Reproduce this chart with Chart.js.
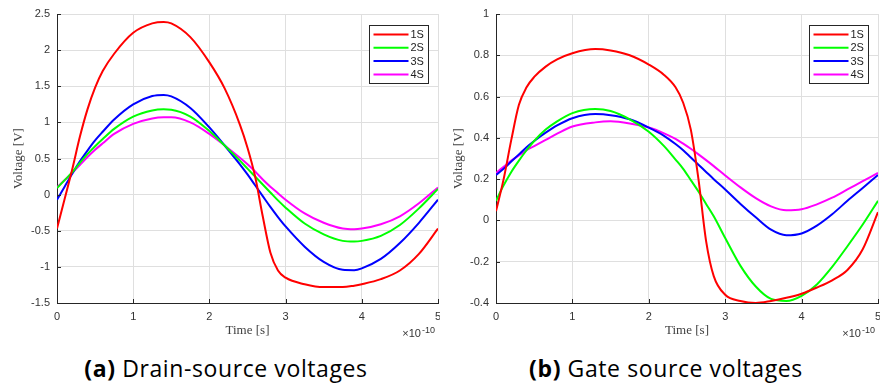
<!DOCTYPE html>
<html>
<head>
<meta charset="utf-8">
<script src="https://cdn.jsdelivr.net/npm/chart.js@4/dist/chart.umd.min.js"></script>
<style>
  body { margin: 0; background: #fff; width: 880px; height: 387px; position: relative; overflow: hidden; }
  canvas { position: absolute; top: 0; }
  #chartA { left: 0; }
  #chartB { left: 440px; }
  .cap { position: absolute; top: 354px; width: 452px; text-align: center;
         font-family: "Open Sans", sans-serif; font-size: 23px; letter-spacing: 0.6px;
         line-height: 28px; color: #000; }
</style>
</head>
<body>
<canvas id="chartA" width="440" height="342"></canvas>
<canvas id="chartB" width="440" height="342"></canvas>
<div class="cap" style="left:0"><b>(a)</b> Drain-source voltages</div>
<div class="cap" style="left:440px"><b>(b)</b> Gate source voltages</div>
<script>
const seriesNames = ['1S', '2S', '3S', '4S'];
const seriesColors = ['#ff0000', '#00ff00', '#0000ff', '#ff00ff'];
const xTicks = [0, 1, 2, 3, 4, 5];

// (a) drain-source, time in units of 1e-10 s
const timeA = [0, 0.1, 0.2, 0.3, 0.4, 0.5, 0.6, 0.75, 1.0, 1.25, 1.4, 1.5, 1.75, 2.0, 2.2, 2.4, 2.5, 2.6, 2.7, 2.8, 2.9, 3.0, 3.25, 3.5, 3.75, 3.9, 4.0, 4.25, 4.5, 4.75, 5.0];
const vds1S = [-0.47, -0.06, 0.35, 0.8, 1.18, 1.48, 1.71, 1.95, 2.24, 2.37, 2.39, 2.37, 2.18, 1.83, 1.47, 0.97, 0.65, 0.25, -0.3, -0.8, -1.05, -1.15, -1.24, -1.28, -1.28, -1.26, -1.24, -1.17, -1.05, -0.82, -0.47];
const vds2S = [0.09, 0.2, 0.31, 0.44, 0.56, 0.67, 0.77, 0.91, 1.08, 1.165, 1.18, 1.175, 1.08, 0.88, 0.68, 0.47, 0.36, 0.25, 0.14, 0.03, -0.08, -0.18, -0.4, -0.55, -0.64, -0.65, -0.64, -0.57, -0.42, -0.19, 0.08];
const vds3S = [-0.07, 0.11, 0.29, 0.46, 0.61, 0.75, 0.87, 1.04, 1.25, 1.365, 1.38, 1.36, 1.2, 0.93, 0.68, 0.42, 0.28, 0.13, -0.02, -0.17, -0.31, -0.44, -0.72, -0.93, -1.04, -1.045, -1.02, -0.89, -0.67, -0.39, -0.07];
const vds4S = [0.1, 0.2, 0.3, 0.41, 0.52, 0.62, 0.71, 0.84, 0.98, 1.055, 1.07, 1.07, 1.0, 0.84, 0.68, 0.51, 0.42, 0.32, 0.21, 0.11, 0.02, -0.07, -0.26, -0.39, -0.47, -0.48, -0.47, -0.41, -0.3, -0.12, 0.1];
const yTicksA = [-1.5, -1, -0.5, 0, 0.5, 1, 1.5, 2, 2.5];

// (b) gate-source
const timeB = [0, 0.1, 0.2, 0.3, 0.4, 0.5, 0.65, 0.8, 1.0, 1.3, 1.5, 1.75, 2.0, 2.2, 2.35, 2.45, 2.55, 2.65, 2.75, 2.85, 3.0, 3.2, 3.4, 3.6, 3.8, 4.0, 4.2, 4.4, 4.6, 4.8, 5.0];
const vgs1S = [0.045, 0.2, 0.39, 0.56, 0.645, 0.695, 0.745, 0.78, 0.81, 0.83, 0.823, 0.8, 0.755, 0.705, 0.645, 0.57, 0.44, 0.2, -0.1, -0.27, -0.36, -0.39, -0.40, -0.39, -0.375, -0.355, -0.325, -0.29, -0.24, -0.14, 0.04];
const vgs2S = [0.095, 0.17, 0.235, 0.29, 0.34, 0.385, 0.44, 0.48, 0.52, 0.54, 0.53, 0.49, 0.43, 0.36, 0.295, 0.25, 0.195, 0.14, 0.08, 0.02, -0.085, -0.22, -0.32, -0.38, -0.39, -0.365, -0.31, -0.225, -0.125, -0.02, 0.095];
const vgs3S = [0.22, 0.25, 0.285, 0.32, 0.355, 0.385, 0.425, 0.46, 0.495, 0.515, 0.51, 0.49, 0.45, 0.41, 0.37, 0.34, 0.305, 0.27, 0.235, 0.2, 0.15, 0.08, 0.015, -0.045, -0.072, -0.063, -0.025, 0.03, 0.095, 0.157, 0.22];
const vgs4S = [0.23, 0.26, 0.29, 0.315, 0.34, 0.36, 0.39, 0.42, 0.455, 0.475, 0.48, 0.47, 0.45, 0.422, 0.395, 0.372, 0.347, 0.32, 0.292, 0.263, 0.218, 0.16, 0.108, 0.068, 0.049, 0.054, 0.078, 0.11, 0.15, 0.19, 0.23];
const yTicksB = [-0.4, -0.2, 0, 0.2, 0.4, 0.6, 0.8, 1];

const axisColor = '#262626';
const tickFont = { family: 'Liberation Sans', size: 11 };

// matlab-ish extras: inner ticks, x10^-10 exponent and boxed legend
const matlabAxes = {
  id: 'matlabAxes',
  afterDraw(chart) {
    const ctx = chart.ctx;
    const area = chart.chartArea;
    const xs = chart.scales.x, ys = chart.scales.y;
    ctx.save();
    ctx.strokeStyle = axisColor;
    ctx.lineWidth = 1;
    ctx.beginPath();
    xs.ticks.forEach(t => {
      const px = Math.round(xs.getPixelForValue(t.value)) + 0.5;
      ctx.moveTo(px, area.bottom);
      ctx.lineTo(px, area.bottom - 4);
    });
    ys.ticks.forEach(t => {
      const py = Math.round(ys.getPixelForValue(t.value)) + 0.5;
      ctx.moveTo(area.left, py);
      ctx.lineTo(area.left + 4, py);
    });
    ctx.stroke();

    // exponent
    ctx.fillStyle = '#333';
    ctx.textBaseline = 'alphabetic';
    ctx.textAlign = 'right';
    ctx.font = '9px "Liberation Sans"';
    const expRight = area.right - 3;
    ctx.fillText('-10', expRight, 333);
    const supW = ctx.measureText('-10').width;
    ctx.font = '11px "Liberation Sans"';
    ctx.fillText('\u00d710', expRight - supW - 1, 337);

    // legend
    const bw = 59, bh = 58;
    const bx = Math.round(area.right - 10.5 - bw) + 0.5;
    const by = Math.round(area.top + 11) + 0.5;
    ctx.fillStyle = '#fff';
    ctx.fillRect(bx, by, bw, bh);
    ctx.strokeStyle = axisColor;
    ctx.strokeRect(bx, by, bw, bh);
    ctx.font = '11px "Liberation Sans"';
    ctx.textAlign = 'left';
    ctx.textBaseline = 'middle';
    chart.data.datasets.forEach((ds, i) => {
      const ry = by + 9 + i * 13.3;
      ctx.strokeStyle = ds.borderColor;
      ctx.lineWidth = 2;
      ctx.beginPath();
      ctx.moveTo(bx + 4, ry);
      ctx.lineTo(bx + 39, ry);
      ctx.stroke();
      ctx.fillStyle = '#222';
      ctx.fillText(ds.label, bx + 41, ry + 0.5);
    });
    ctx.restore();
  }
};

function makeChart(id, time, series, yTicks, axisWidth) {
  const ctx = document.getElementById(id).getContext('2d');
  return new Chart(ctx, {
    type: 'line',
    data: {
      datasets: series.map((vals, i) => ({
        label: seriesNames[i],
        data: time.map((t, k) => ({ x: t, y: vals[k] })),
        borderColor: seriesColors[i],
        borderWidth: 2,
        pointRadius: 0,
        fill: false,
        cubicInterpolationMode: 'monotone'
      }))
    },
    options: {
      responsive: false,
      animation: false,
      events: [],
      layout: { padding: { left: 0, right: 2, top: 14, bottom: 0 } },
      plugins: { legend: { display: false }, tooltip: { enabled: false } },
      scales: {
        x: {
          type: 'linear',
          min: xTicks[0],
          max: xTicks[xTicks.length - 1],
          afterBuildTicks: s => { s.ticks = xTicks.map(v => ({ value: v })); },
          afterFit: s => { s.height = 39; s.paddingLeft = 0; s.paddingRight = 0; },
          grid: { color: '#dfdfdf', drawTicks: false },
          border: { color: axisColor, width: 1 },
          ticks: { color: '#333', font: tickFont, padding: 7, maxRotation: 0, callback: v => String(v) },
          title: { display: true, text: 'Time [s]', color: '#404040',
                   font: { family: 'Liberation Serif', size: 13 }, padding: { top: 0, bottom: 4 } }
        },
        y: {
          min: yTicks[0],
          max: yTicks[yTicks.length - 1],
          afterBuildTicks: s => { s.ticks = yTicks.map(v => ({ value: v })); },
          afterFit: s => { s.width = axisWidth; s.paddingTop = 0; s.paddingBottom = 0; },
          grid: { color: '#dfdfdf', drawTicks: false },
          border: { color: axisColor, width: 1 },
          ticks: { color: '#333', font: tickFont, padding: 7, callback: v => String(Math.round(v * 100) / 100) },
          title: { display: true, text: 'Voltage [V]', color: '#404040',
                   font: { family: 'Liberation Serif', size: 13 }, padding: { top: 11, bottom: 0 } }
        }
      }
    },
    plugins: [matlabAxes]
  });
}

makeChart('chartA', timeA, [vds1S, vds2S, vds3S, vds4S], yTicksA, 57);
makeChart('chartB', timeB, [vgs1S, vgs2S, vgs3S, vgs4S], yTicksB, 56);
</script>
</body>
</html>
